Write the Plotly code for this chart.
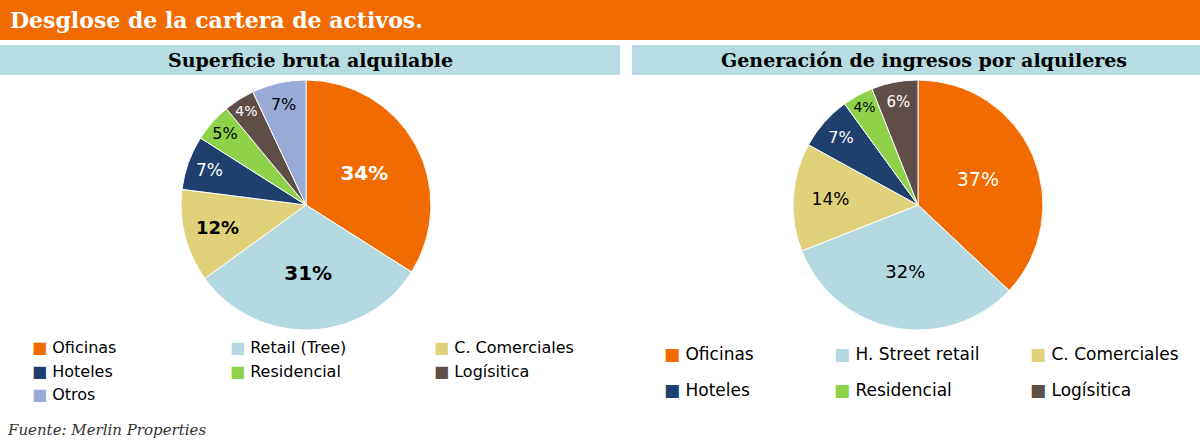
import plotly.graph_objects as go

W, H = 1200, 446

left_labels = ["Oficinas", "Retail (Tree)", "C. Comerciales", "Hoteles", "Residencial", "Logísitica", "Otros"]
left_values = [34, 31, 12, 7, 5, 4, 7]
left_colors = ["#f26b00", "#b4d9e0", "#e0d27a", "#1f3f6e", "#8ed24a", "#5e4e47", "#9aaad6"]

right_labels = ["Oficinas", "H. Street retail", "C. Comerciales", "Hoteles", "Residencial", "Logísitica"]
right_values = [37, 32, 14, 7, 4, 6]
right_colors = left_colors[:6]

FONT = "DejaVu Sans"
SERIF = "DejaVu Serif"


def px(x, y):
    return x / W, 1 - y / H


fig = go.Figure()

fig.add_trace(go.Pie(
    labels=left_labels, values=left_values, sort=False, direction="clockwise", rotation=0,
    marker=dict(colors=left_colors, line=dict(color="white", width=1)),
    texttemplate=["<b>%{value}%</b>"] * 3 + ["%{value}%"] * 4,
    textposition="inside", insidetextorientation="horizontal",
    textfont=dict(family=FONT, size=[20, 20, 18, 17, 16, 16, 16],
                  color=["white", "black", "black", "white", "black", "white", "black"]),
    domain=dict(x=[0.05, 0.46], y=[1 - 330 / H, 1 - 80 / H]),
    showlegend=False, hoverinfo="label+value"))

fig.add_trace(go.Pie(
    labels=right_labels, values=right_values, sort=False, direction="clockwise", rotation=0,
    marker=dict(colors=right_colors, line=dict(color="white", width=1)),
    texttemplate="%{value}%", textposition="inside", insidetextorientation="horizontal",
    textfont=dict(family=FONT, size=[19, 18, 17, 16, 15, 15],
                  color=["white", "black", "black", "white", "black", "white"]),
    domain=dict(x=[0.56, 0.97], y=[1 - 330 / H, 1 - 80 / H]),
    showlegend=False, hoverinfo="label+value"))

shapes = [
    dict(type="rect", xref="paper", yref="paper", x0=0, x1=1, y0=1 - 40 / H, y1=1,
         fillcolor="#f26b00", line_width=0, layer="below"),
    dict(type="rect", xref="paper", yref="paper", x0=0, x1=620 / W, y0=1 - 75 / H, y1=1 - 45 / H,
         fillcolor="#b7dce2", line_width=0, layer="below"),
    dict(type="rect", xref="paper", yref="paper", x0=632 / W, x1=1, y0=1 - 75 / H, y1=1 - 45 / H,
         fillcolor="#b7dce2", line_width=0, layer="below"),
]

ann = []
x, y = px(8, 20)
ann.append(dict(x=x, y=y, text="<b>Desglose de la cartera de activos.</b>", xanchor="left",
                font=dict(family=SERIF, size=22, color="white")))
x, y = px(310, 60)
ann.append(dict(x=x, y=y, text="<b>Superficie bruta alquilable</b>", xanchor="center",
                font=dict(family=SERIF, size=19, color="black")))
x, y = px(924, 60)
ann.append(dict(x=x, y=y, text="<b>Generación de ingresos por alquileres</b>", xanchor="center",
                font=dict(family=SERIF, size=19, color="black")))
x, y = px(5, 430)
ann.append(dict(x=x, y=y, text="<i>Fuente: Merlin Properties</i>", xanchor="left",
                font=dict(family=SERIF, size=15, color="#333")))


def legend(labels, colors, cols, rows, size):
    for i, (lab, col) in enumerate(zip(labels, colors)):
        cx = cols[i % 3]
        cy = rows[i // 3]
        x, y = px(cx, cy)
        ann.append(dict(x=x, y=y, xanchor="left",
                        text=f"<span style='color:{col}'>■</span> {lab}",
                        font=dict(family=FONT, size=size, color="black")))


legend(left_labels, left_colors, [30, 228, 432], [347, 371, 394], 16)
legend(right_labels, right_colors, [662, 832, 1028], [354, 390], 17)

for a in ann:
    a.update(xref="paper", yref="paper", showarrow=False, yanchor="middle")

fig.update_layout(width=W, height=H, margin=dict(l=0, r=0, t=0, b=0),
                  paper_bgcolor="white", plot_bgcolor="white",
                  shapes=shapes, annotations=ann)

fig.write_html("out.html", config={"displayModeBar": False},
               post_script="document.body.style.margin='0';")
